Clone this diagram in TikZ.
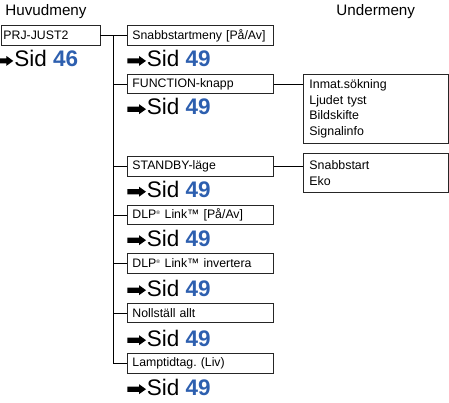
\documentclass[tikz,border=0pt]{standalone}
\usepackage{fontspec}
\setmainfont{Liberation Sans}
\usepackage{xcolor}
\usepackage{tikz}

\definecolor{sidblue}{RGB}{45,95,175}
\frenchspacing

\begin{document}
\begin{tikzpicture}[x=1pt,y=-1pt,
  line width=0.9pt,
  menubox/.style={draw=black!85, anchor=west, minimum height=19.5pt, inner xsep=5pt, text width=136pt, align=left, font=\fontsize{12.3}{14}\selectfont},
  subbox/.style={draw=black!85, anchor=north west, inner xsep=6pt, text width=133pt, align=left, font=\fontsize{12.4}{15.6}\selectfont},
  sidtext/.style={anchor=base west, inner sep=0pt, font=\fontsize{22.5}{24}\selectfont},
  heading/.style={anchor=base west, inner sep=0pt, font=\fontsize{15.2}{17}\selectfont},
  sidarrow/.pic={\fill (0,0) -- (-7,-5) -- (-7,-2.6) -- (-18.7,-2.6) -- (-18.7,2.6) -- (-7,2.6) -- (-7,5) -- cycle;}]
\useasboundingbox (0,0) rectangle (449,403);

% headings
\node[heading] (huvud) at (5,16) {Huvudmeny};
\node[heading] (under) at (336,16) {Undermeny};

% main menu
\node[menubox, text width=94pt, inner xsep=2.5pt] (prj) at (0.5,35.5) {PRJ-JUST2};
\node[sidtext] (sidprj) at (13.8,66.7) {Sid \textbf{\color{sidblue}46}};

% sub menu column
\coordinate (trunk) at (113,0);
\node[menubox] (snabb) at (127,35.5) {Snabbstartmeny [På/Av]};
\node[sidtext] (sidsnabb) at (146.5,66.7) {Sid \textbf{\color{sidblue}49}};
\node[menubox] (func) at (127,84) {FUNCTION-knapp};
\node[sidtext] (sidfunc) at (146.5,115) {Sid \textbf{\color{sidblue}49}};
\node[menubox] (standby) at (127,166.3) {STANDBY-läge};
\node[sidtext] (sidstandby) at (146.5,197.5) {Sid \textbf{\color{sidblue}49}};
\node[menubox] (dlp) at (127,215) {DLP\textsuperscript{\tiny®} Link\texttrademark{} [På/Av]};
\node[sidtext] (siddlp) at (146.5,246) {Sid \textbf{\color{sidblue}49}};
\node[menubox] (inv) at (127,263.3) {DLP\textsuperscript{\tiny®} Link\texttrademark{} invertera};
\node[sidtext] (sidinv) at (146.5,296) {Sid \textbf{\color{sidblue}49}};
\node[menubox] (noll) at (127,313) {Nollställ allt};
\node[sidtext] (sidnoll) at (146.5,346) {Sid \textbf{\color{sidblue}49}};
\node[menubox] (lamp) at (127,363.5) {Lamptidtag. (Liv)};
\node[sidtext] (sidlamp) at (146.5,395) {Sid \textbf{\color{sidblue}49}};

% arrows in front of the page references
\foreach \s in {sidprj,sidsnabb,sidfunc,sidstandby,siddlp,sidinv,sidnoll,sidlamp}
  \pic at ([xshift=-0.5pt,yshift=5.8pt]\s.base west) {sidarrow};

% lists on the right
\node[subbox, minimum height=68.7pt] (funclist) at (303,74) {Inmat.sökning\\Ljudet tyst\\Bildskifte\\Signalinfo};
\node[subbox, minimum height=38.7pt] (standbylist) at (303,153) {Snabbstart\\Eko};

% connectors
\draw (prj.east) -- (snabb.west);
\draw (snabb.west -| trunk) -- (lamp.west -| trunk);
\draw (func.west -| trunk) -- (func.west);
\draw (standby.west -| trunk) -- (standby.west);
\draw (dlp.west -| trunk) -- (dlp.west);
\draw (inv.west -| trunk) -- (inv.west);
\draw (noll.west -| trunk) -- (noll.west);
\draw (lamp.west -| trunk) -- (lamp.west);
\draw (func.east) -- (func.east -| funclist.west);
\draw (standby.east) -- (standby.east -| standbylist.west);
\end{tikzpicture}
\end{document}
